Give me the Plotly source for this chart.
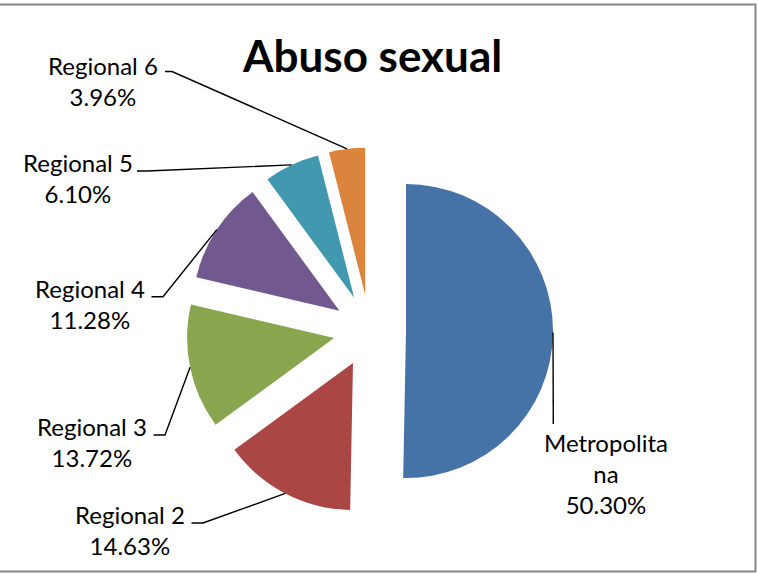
import math
import plotly.graph_objects as go

# ---- data ----
categories = ["Metropolitana", "Regional 2", "Regional 3", "Regional 4", "Regional 5", "Regional 6"]
percentages = [50.30, 14.63, 13.72, 11.28, 6.10, 3.96]
label_lines = [["Metropolita", "na"], ["Regional 2"], ["Regional 3"], ["Regional 4"], ["Regional 5"], ["Regional 6"]]
colors = ["#4572A7", "#AA4643", "#89A54E", "#71588F", "#4198AF", "#DB843D"]
title_text = "Abuso sexual"

# ---- layout constants (pixels) ----
W, H = 758, 575
CX, CY = 369.7, 330.7      # unexploded pie centre
R = 147.0                  # pie radius
PULL = 0.247               # explosion (fraction of radius)
FONT = "Lato, 'Open Sans', sans-serif"

# label block centres and leader-line label-side points (pixels)
label_pos = [(605.8, 473.5), (129.5, 530.0), (92.2, 441.8), (90.3, 303.5), (78.0, 178.4), (103.0, 80.5)]
leader_start = [(553.3, 424.0), (191.5, 523.0), (153.5, 435.0), (151.5, 296.8), (137.0, 171.0), (165.0, 71.5)]
leader_knee = [None, (203.0, 523.0), (165.0, 435.0), (163.0, 296.8), (147.0, 171.0), (172.0, 71.5)]


def px(x):
    return x / W


def py(y):
    return 1 - y / H


half = R * (1 + PULL)
fig = go.Figure()
fig.add_trace(go.Pie(
    labels=categories,
    values=percentages,
    sort=False,
    direction="clockwise",
    rotation=0,
    pull=[PULL] * len(percentages),
    marker=dict(colors=colors, line=dict(width=0)),
    textinfo="none",
    showlegend=False,
    domain=dict(x=[px(CX - half), px(CX + half)], y=[py(CY + half), py(CY - half)]),
))

total = sum(percentages)
cum = 0.0
shapes = []
annotations = []
for i, (cat, v) in enumerate(zip(categories, percentages)):
    mid = 2 * math.pi * (cum + v / 2) / total
    cum += v
    ax = CX + half * math.sin(mid)
    ay = CY - half * math.cos(mid)
    pts = [leader_start[i]]
    if leader_knee[i] is not None:
        pts.append(leader_knee[i])
    pts.append((ax, ay))
    path = "M " + " L ".join(f"{px(x):.5f},{py(y):.5f}" for x, y in pts)
    shapes.append(dict(type="path", xref="paper", yref="paper", path=path,
                       line=dict(color="black", width=1.4)))
    text = "<br>".join(label_lines[i] + [f"{v:.2f}%"])
    lx, ly = label_pos[i]
    annotations.append(dict(text=text, x=px(lx), y=py(ly), xref="paper", yref="paper",
                            xanchor="center", yanchor="middle", align="center",
                            showarrow=False, font=dict(family=FONT, size=24, color="black")))

annotations.append(dict(text="<b>" + title_text + "</b>", x=px(371.5), y=py(55), xref="paper", yref="paper",
                        xanchor="center", yanchor="middle", showarrow=False,
                        font=dict(family=FONT, size=44, color="black")))

# chart border
shapes.append(dict(type="rect", xref="paper", yref="paper", x0=px(-3), x1=px(755.5), y0=py(571.5), y1=py(4.5),
                   line=dict(color="#878787", width=2), fillcolor="rgba(0,0,0,0)"))

fig.update_layout(width=W, height=H, margin=dict(l=0, r=0, t=0, b=0),
                  paper_bgcolor="white", plot_bgcolor="white",
                  shapes=shapes, annotations=annotations)
fig.write_html("out.html", config={"displayModeBar": False},
               post_script="document.body.style.margin='0';document.body.style.overflow='hidden';")
